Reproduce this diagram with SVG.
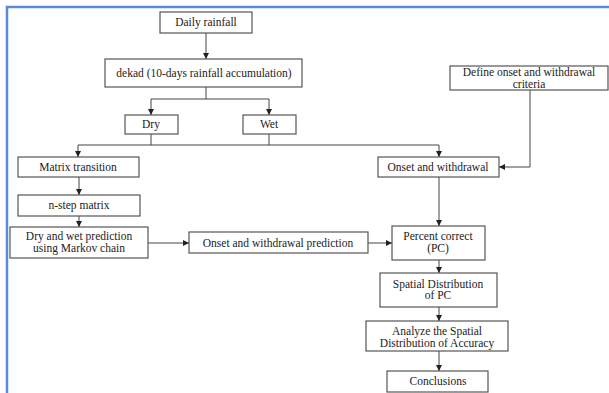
<svg xmlns="http://www.w3.org/2000/svg" width="609" height="393" viewBox="0 0 609 393">
<defs>
<marker id="ah" viewBox="0 0 8 8" refX="8" refY="4" markerWidth="6" markerHeight="6" markerUnits="userSpaceOnUse" orient="auto">
<path d="M0,0 L8,4 L0,8 z" fill="#222"/>
</marker>
<style>
.box{fill:#fff;stroke:#555;stroke-width:1.2}
text{font-family:'Liberation Serif','Times New Roman',Times,serif;font-size:11.5px;fill:#222;text-anchor:middle}
.c{fill:none;stroke:#444;stroke-width:1}
.a{marker-end:url(#ah)}
</style>
</defs>
<rect x="0" y="0" width="609" height="393" fill="#fff"/>
<path d="M7,393 V7 H609" fill="none" stroke="#5b8bd2" stroke-width="2.5"/>

<g id="connectors">
<line class="c a" x1="206" y1="33" x2="206" y2="59"/>
<polyline class="c" points="206,87 206,99"/>
<polyline class="c a" points="151,99 151,115"/>
<polyline class="c" points="151,99 269,99"/>
<polyline class="c a" points="269,99 269,115"/>
<polyline class="c" points="151,134 151,145"/>
<polyline class="c" points="269,134 269,145"/>
<polyline class="c" points="78,145 439,145"/>
<polyline class="c a" points="78,145 78,157"/>
<polyline class="c a" points="439,145 439,157"/>
<polyline class="c a" points="79,177 79,195"/>
<polyline class="c a" points="79,216 79,227"/>
<polyline class="c a" points="148,243 189,243"/>
<polyline class="c a" points="368,243 392,243"/>
<polyline class="c a" points="530,90 530,167 499,167"/>
<polyline class="c a" points="439,177 439,226"/>
<polyline class="c a" points="439,260 439,273"/>
<polyline class="c a" points="439,307 439,321"/>
<polyline class="c a" points="439,351 439,371"/>
</g>

<g font-family="Liberation Serif, Times New Roman, serif">
<g id="daily"><rect class="box" x="160" y="12" width="92" height="21"/><text x="206" y="26">Daily rainfall</text></g>
<g id="dekad"><rect class="box" x="105" y="59" width="197" height="28"/><text x="204" y="77">dekad (10-days rainfall  accumulation)</text></g>
<g id="define"><rect class="box" x="450" y="66" width="158" height="24"/><text x="529" y="76">Define onset and withdrawal</text><text x="529" y="88">criteria</text></g>
<g id="dry"><rect class="box" x="125" y="115" width="53" height="19"/><text x="151" y="128">Dry</text></g>
<g id="wet"><rect class="box" x="243" y="115" width="53" height="19"/><text x="269" y="128">Wet</text></g>
<g id="matrix"><rect class="box" x="18" y="157" width="121" height="20"/><text x="78" y="171">Matrix  transition</text></g>
<g id="nstep"><rect class="box" x="18" y="195" width="122" height="21"/><text x="79" y="209">n-step matrix</text></g>
<g id="drywet"><rect class="box" x="10" y="227" width="138" height="31"/><text x="79" y="240">Dry and wet prediction</text><text x="79" y="252">using Markov  chain</text></g>
<g id="onsetpred"><rect class="box" x="189" y="232" width="179" height="21"/><text x="278" y="247">Onset and withdrawal  prediction</text></g>
<g id="onset"><rect class="box" x="378" y="157" width="121" height="20"/><text x="438" y="171">Onset and withdrawal</text></g>
<g id="pc"><rect class="box" x="392" y="226" width="93" height="34"/><text x="438" y="240">Percent correct</text><text x="438" y="252">(PC)</text></g>
<g id="spatial"><rect class="box" x="380" y="273" width="117" height="34"/><text x="438" y="288">Spatial  Distribution</text><text x="438" y="299">of PC</text></g>
<g id="analyze"><rect class="box" x="366" y="321" width="142" height="30"/><text x="437" y="335">Analyze  the Spatial</text><text x="437" y="347">Distribution  of Accuracy</text></g>
<g id="conclusions"><rect class="box" x="387" y="371" width="101" height="21"/><text x="438" y="385">Conclusions</text></g>
</g>
</svg>
